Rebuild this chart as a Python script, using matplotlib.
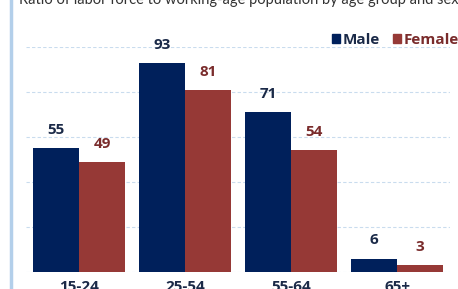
import matplotlib
matplotlib.use("Agg")
import matplotlib.pyplot as plt
import numpy as np
from matplotlib.lines import Line2D
from matplotlib.patches import Patch

age_groups = ["15-24", "25-54", "55-64", "65+"]
male = [55, 93, 71, 6]
female = [49, 81, 54, 3]

male_color = "#00205b"
female_color = "#963936"
male_text = "#1b2a48"
female_text = "#7a2c2c"
grid_color = "#c9dcee"

plt.rcParams["font.family"] = ["Open Sans", "DejaVu Sans"]

fig = plt.figure(figsize=(4.58, 2.89), dpi=100)
ax = fig.add_axes([26 / 458, 17 / 289, 424 / 458, 225 / 289])

x = np.arange(len(age_groups))
w = 0.435
b1 = ax.bar(x - w / 2, male, w, color=male_color, zorder=3)
b2 = ax.bar(x + w / 2, female, w, color=female_color, zorder=3)

for bars, vals, col in [(b1, male, male_text), (b2, female, female_text)]:
    for bar, v in zip(bars, vals):
        ax.annotate(str(v), (bar.get_x() + bar.get_width() / 2, v),
                    xytext=(0, 8), textcoords="offset points",
                    ha="center", va="bottom", fontsize=11, fontweight="bold",
                    color=col, annotation_clip=False)

ax.set_xlim(-0.5, 3.5)
ax.set_ylim(0, 100)
ax.set_yticks(range(0, 101, 20))
ax.set_yticklabels([])
ax.yaxis.grid(True, color=grid_color, linestyle=(0, (3, 2)), linewidth=0.8, zorder=0)
ax.tick_params(axis="y", length=0)
ax.tick_params(axis="x", length=0, pad=6)
ax.set_xticks(x)
ax.set_xticklabels(age_groups, fontsize=11, fontweight="bold", color=male_text)
for s in ax.spines.values():
    s.set_visible(False)

# legend
handles = [Patch(color=male_color), Patch(color=female_color)]
leg = ax.legend(handles, ["Male", "Female"], loc="lower right",
                bbox_to_anchor=(432 / 424 + 0.003, 1.0), frameon=False,
                ncol=2, handlelength=0.55, handleheight=0.55, handletextpad=0.2,
                columnspacing=0.8, borderaxespad=0.0, borderpad=0.0,
                prop={"weight": "bold", "size": 11})
for t, c in zip(leg.get_texts(), [male_text, female_text]):
    t.set_color(c)

fig.text(19 / 458, 1 - 4 / 289, "Ratio of labor force to working-age population by age group and sex",
         fontsize=10.5, color="#333333", va="baseline", ha="left",
         family=["Lato", "DejaVu Sans"])

fig.add_artist(Line2D([11 / 458, 11 / 458], [0, 1], transform=fig.transFigure,
                      color="#b3cfea", linewidth=2.5))

fig.savefig("out.png", dpi=100)
